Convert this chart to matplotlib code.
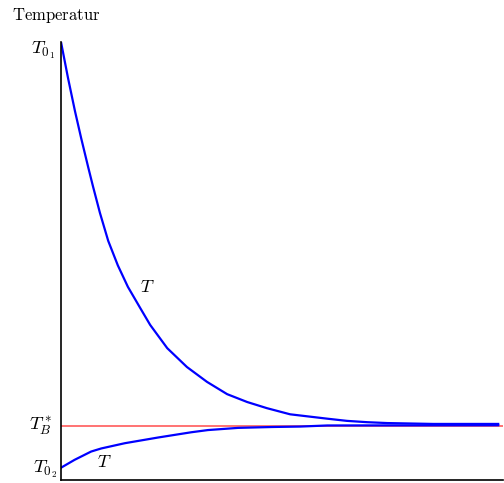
import matplotlib
matplotlib.use("Agg")
import matplotlib.pyplot as plt

plt.rcParams['mathtext.fontset'] = 'cm'

# time axis (arbitrary units) and temperatures
t_upper = [0, 0.16, 0.32, 0.46, 0.62, 0.73, 0.89, 1.08, 1.30, 1.53, 1.81, 2.04,
           2.43, 2.88, 3.34, 3.80, 4.26, 4.71, 5.24, 6.09, 6.54, 7.00, 7.46,
           8.51, 10.0]
T_upper = [100, 91.8, 84.2, 78.1, 71.5, 67.1, 61.0, 54.6, 49.0, 44.1, 39.3, 35.4,
           30.1, 25.8, 22.4, 19.6, 17.8, 16.4, 15.0, 14.0, 13.5, 13.2, 13.0,
           12.8, 12.8]

t_lower = [0, 0.31, 0.69, 0.92, 1.46, 2.22, 2.98, 3.36, 4.05, 4.83, 5.47, 6.09, 10.0]
T_lower = [2.8, 4.6, 6.5, 7.2, 8.4, 9.7, 10.9, 11.4, 11.9, 12.1, 12.2, 12.45, 12.5]

T01 = 100
T02 = 2.7
TB = 12.4

fig = plt.figure(figsize=(5.04, 4.83), dpi=100)
ax = fig.add_axes([61/504, 3/483, 442/504, 438/483])

ax.axhline(TB, color='#ff5a5a', lw=1.2, zorder=1)
ax.plot(t_upper, T_upper, color='#0000ff', lw=1.6, zorder=2, solid_joinstyle='round')
ax.plot(t_lower, T_lower, color='#0000ff', lw=1.6, zorder=2, solid_joinstyle='round')

ax.set_xlim(0, 10.11)
ax.set_ylim(0, 100)
ax.spines['top'].set_visible(False)
ax.spines['right'].set_visible(False)
ax.spines['left'].set_linewidth(1.2)
ax.spines['bottom'].set_linewidth(1.2)
ax.set_xticks([])
ax.set_yticks([])

ax.text(-0.14, 98.0, r'$T_{0_1}$', ha='right', va='center', fontsize=13.5, clip_on=False)
ax.text(-0.2, TB, r'$T_B^*$', ha='right', va='center', fontsize=13.5, clip_on=False)
ax.text(-0.09, 2.4, r'$T_{0_2}$', ha='right', va='center', fontsize=13.5, clip_on=False)

ax.text(1.97, 44.1, r'$T$', ha='center', va='center', fontsize=13)
ax.text(1.0, 4.1, r'$T$', ha='center', va='center', fontsize=13)

fig.text(12/504, 1 - 20/483, r'$\mathrm{Temperatur}$', ha='left', va='baseline', fontsize=12)

fig.savefig('out.png', dpi=100)
